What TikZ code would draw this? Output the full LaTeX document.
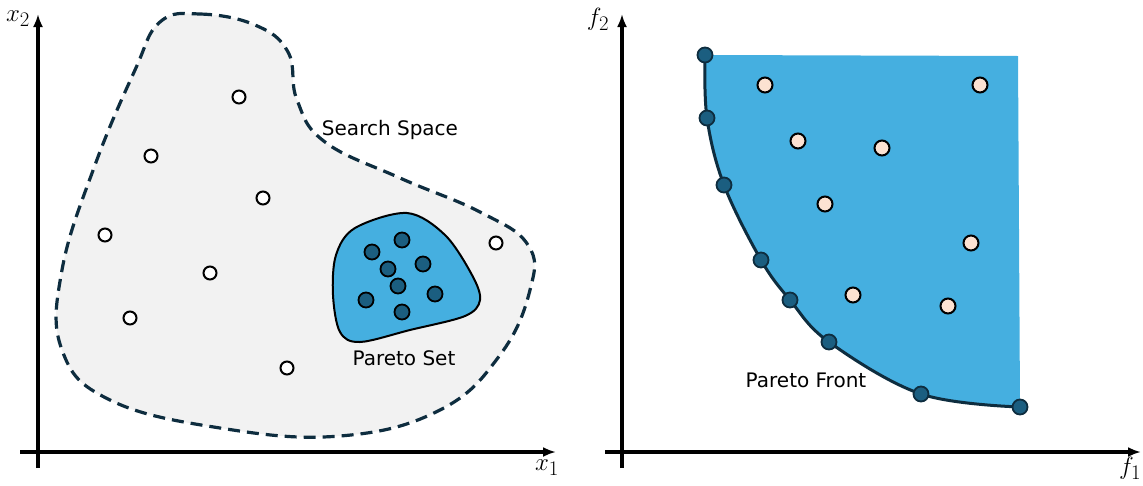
\documentclass[tikz,border=0pt]{standalone}
\usepackage{fontspec}
\setsansfont{DejaVu Sans}
\usetikzlibrary{arrows.meta}
\definecolor{navy}{HTML}{0E2D3F}
\definecolor{paretoblue}{HTML}{45AFE0}
\definecolor{darkdot}{HTML}{1B5E80}
\definecolor{peach}{HTML}{FCE2D2}
\definecolor{spacegray}{HTML}{F2F2F2}

\begin{document}
\begin{tikzpicture}[x=1pt,y=-1pt,>={Latex[length=13pt,width=10pt]},
  axis/.style={line width=3.2pt,black},
  axislabel/.style={font=\fontsize{32}{32}\selectfont},
  textlabel/.style={font=\sffamily\fontsize{20}{20}\selectfont},
  emptydot/.style={circle,draw=black,fill=white,line width=2pt,inner sep=0pt,minimum size=13pt},
  setdot/.style={circle,draw=black,fill=darkdot,line width=1.8pt,inner sep=0pt,minimum size=15pt},
  frontdot/.style={circle,draw=navy,fill=darkdot,line width=1.8pt,inner sep=0pt,minimum size=15pt},
  objdot/.style={circle,draw=black,fill=peach,line width=2pt,inner sep=0pt,minimum size=15pt}]
  \useasboundingbox (0,0) rectangle (1143,485);

  % decision space
  \filldraw[fill=spacegray,draw=navy,line width=3.2pt,dash pattern=on 12pt off 7pt]
    plot[smooth cycle,tension=0.7] coordinates {(160,22) (200,14) (255,25) (288,52) (297,100)
      (325,142) (400,178) (480,212) (528,245) (530,290) (500,355) (440,410) (340,436)
      (220,428) (110,400) (62,350) (62,270) (95,165) (135,70)};
  \filldraw[fill=paretoblue,draw=black,line width=2pt]
    plot[smooth cycle,tension=0.55] coordinates {(407,213) (445,235) (472,275) (480,300)
      (465,316) (410,330) (360,342) (340,332) (333,295) (336,255) (355,228)};

  \node[emptydot] (s1) at (239,97) {};
  \node[emptydot] (s2) at (151,156) {};
  \node[emptydot] (s3) at (263,198) {};
  \node[emptydot] (s4) at (105,235) {};
  \node[emptydot] (s5) at (210,273) {};
  \node[emptydot] (s6) at (130,318) {};
  \node[emptydot] (s7) at (287,368) {};
  \node[emptydot] (s8) at (496,243) {};

  \node[setdot] (p1) at (402,240) {};
  \node[setdot] (p2) at (372,252) {};
  \node[setdot] (p3) at (388,269) {};
  \node[setdot] (p4) at (423,264) {};
  \node[setdot] (p5) at (398,286) {};
  \node[setdot] (p6) at (366,300) {};
  \node[setdot] (p7) at (435,294) {};
  \node[setdot] (p8) at (402,312) {};

  \node[textlabel] (space) at (390,130) {Search Space};
  \node[textlabel] (set) at (404,358) {Pareto Set};

  \coordinate (xl) at (20,452);
  \coordinate (xr) at (556,452);
  \coordinate (xb) at (38,468);
  \coordinate (xt) at (38,14);
  \draw[axis,->] (xl) -- (xr);
  \draw[axis,->] (xb) -- (xt);
  \node[axislabel] (x1) at (547,468) {$x_1$};
  \node[axislabel] (x2) at (18,19) {$x_2$};

  % objective space
  \fill[paretoblue] plot[smooth,tension=0.6] coordinates {(705,55) (707,118) (724,185) (761,260)
      (790,300) (829,342) (921,394) (1020,407)} -- (1018,56) -- cycle;
  \draw[navy,line width=3pt] plot[smooth,tension=0.6] coordinates {(705,55) (707,118) (724,185)
      (761,260) (790,300) (829,342) (921,394) (1020,407)};

  \node[frontdot] (f1) at (705,55) {};
  \node[frontdot] (f2) at (707,118) {};
  \node[frontdot] (f3) at (724,185) {};
  \node[frontdot] (f4) at (761,260) {};
  \node[frontdot] (f5) at (790,300) {};
  \node[frontdot] (f6) at (829,342) {};
  \node[frontdot] (f7) at (921,394) {};
  \node[frontdot] (f8) at (1020,407) {};

  \node[objdot] (o1) at (765,85) {};
  \node[objdot] (o2) at (980,85) {};
  \node[objdot] (o3) at (798,141) {};
  \node[objdot] (o4) at (882,148) {};
  \node[objdot] (o5) at (825,204) {};
  \node[objdot] (o6) at (971,243) {};
  \node[objdot] (o7) at (853,295) {};
  \node[objdot] (o8) at (948,306) {};

  \node[textlabel] (front) at (806,380) {Pareto Front};

  \coordinate (fl) at (605,452);
  \coordinate (fr) at (1141,452);
  \coordinate (fb) at (622,468);
  \coordinate (ft) at (622,14);
  \draw[axis,->] (fl) -- (fr);
  \draw[axis,->] (fb) -- (ft);
  \node[axislabel] (obj1) at (1130,468) {$f_1$};
  \node[axislabel] (obj2) at (598,19) {$f_2$};
\end{tikzpicture}
\end{document}
